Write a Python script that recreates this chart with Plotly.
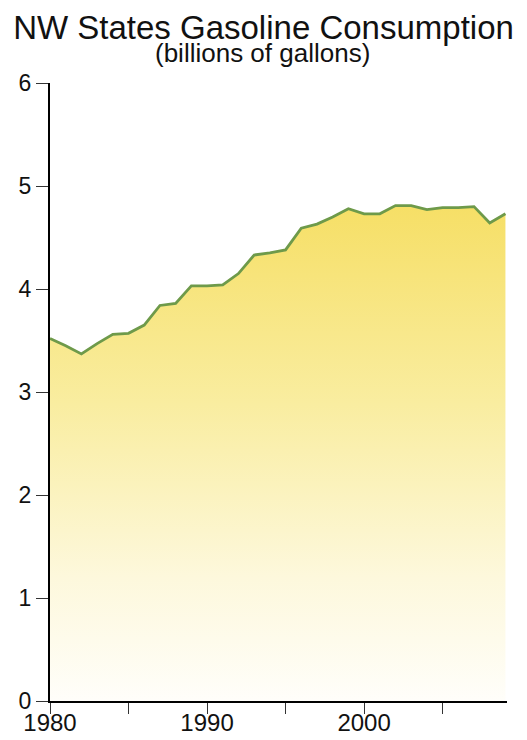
import plotly.graph_objects as go

# Annual gasoline consumption, NW states (billions of gallons)
years = list(range(1980, 2010))
consumption = [3.52, 3.45, 3.37, 3.47, 3.56, 3.57, 3.65, 3.84, 3.86, 4.03,
               4.03, 4.04, 4.15, 4.33, 4.35, 4.38, 4.59, 4.63, 4.70, 4.78,
               4.73, 4.73, 4.81, 4.81, 4.77, 4.79, 4.79, 4.80, 4.64, 4.73]

x_tick_vals = [1980, 1985, 1990, 1995, 2000, 2005]
x_tick_text = ["1980", "", "1990", "", "2000", ""]
y_tick_vals = [0, 1, 2, 3, 4, 5, 6]

FONT = "Liberation Sans, Arial, sans-serif"

fig = go.Figure()
fig.add_trace(go.Scatter(
    x=years, y=consumption,
    mode="lines",
    line=dict(color="#6e9a4a", width=2.8),
    fill="tozeroy",
    fillgradient=dict(
        type="vertical",
        colorscale=[[0, "#fffefa"], [0.25, "#fdf8dc"], [0.6, "#f9eda0"], [1, "#f6df66"]],
    ),
    hoverinfo="skip",
))

fig.update_layout(
    width=527, height=740,
    margin=dict(l=50, r=20, t=83, b=39),
    paper_bgcolor="white", plot_bgcolor="white",
    showlegend=False,
    font=dict(family=FONT, color="#111111"),
    title=dict(text="NW States Gasoline Consumption", x=0.5, xanchor="center",
               y=0.979, yanchor="top", font=dict(size=33, family=FONT, color="#111111")),
    annotations=[dict(text="(billions of gallons)", xref="paper", yref="paper",
                      x=0.466, y=1.0, yanchor="bottom", xanchor="center", yshift=13,
                      showarrow=False, font=dict(size=26, family=FONT, color="#111111"))],
    xaxis=dict(range=[1980, 2009.1], tickvals=x_tick_vals, ticktext=x_tick_text,
               automargin=False, ticklabelstandoff=-12,
               showgrid=False, zeroline=False, showline=True, linecolor="black", linewidth=2,
               ticks="outside", ticklen=11, tickcolor="#333333", tickwidth=1.2,
               tickfont=dict(size=24, family=FONT, color="#111111")),
    yaxis=dict(range=[0, 6], tickvals=y_tick_vals, automargin=False,
               showgrid=False, zeroline=False, showline=True, linecolor="black", linewidth=2,
               ticks="outside", ticklen=12, tickcolor="#333333", tickwidth=1.2,
               tickfont=dict(size=23, family=FONT, color="#111111")),
)

fig.write_html("out.html")
